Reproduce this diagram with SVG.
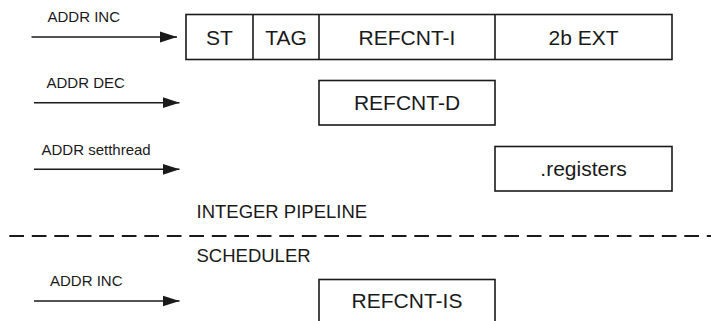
<svg xmlns="http://www.w3.org/2000/svg" width="711" height="321" viewBox="0 0 711 321">
<style>
  .box { fill: #fff; stroke: #1a1a1a; stroke-width: 1.6; }
  .div { stroke: #1a1a1a; stroke-width: 1.6; }
  .lbl { font-family: "Liberation Sans", Arial, sans-serif; font-size: 21px; fill: #1a1a1a; text-anchor: middle; }
  .small { font-family: "Liberation Sans", Arial, sans-serif; font-size: 15px; fill: #1a1a1a; }
  .sec { font-family: "Liberation Sans", Arial, sans-serif; font-size: 18.5px; fill: #1a1a1a; }
  .arrow { stroke: #1a1a1a; stroke-width: 1.6; fill: none; marker-end: url(#ah); }
  .dash { stroke: #1a1a1a; stroke-width: 2; stroke-dasharray: 14.7 7.8; }
</style>
<defs>
  <marker id="ah" markerUnits="userSpaceOnUse" markerWidth="18" markerHeight="12" refX="17" refY="6" orient="auto">
    <path d="M0,0.5 L17,6 L0,11.5 Z" fill="#1a1a1a"/>
  </marker>
</defs>
<rect width="711" height="321" fill="#fff"/>

<g id="node-inc-row">
  <rect class="box" x="186" y="14.5" width="486" height="45"/>
  <line class="div" x1="253" y1="14.5" x2="253" y2="59.5"/>
  <line class="div" x1="319" y1="14.5" x2="319" y2="59.5"/>
  <line class="div" x1="495" y1="14.5" x2="495" y2="59.5"/>
  <text class="lbl" x="219.5" y="44.5">ST</text>
  <text class="lbl" x="286" y="44.5">TAG</text>
  <text class="lbl" x="407" y="44.5">REFCNT-I</text>
  <text class="lbl" x="583.5" y="44.5">2b EXT</text>
</g>

<g id="node-refcnt-d">
  <rect class="box" x="319" y="80.5" width="176" height="44.5"/>
  <text class="lbl" x="407" y="110.3">REFCNT-D</text>
</g>

<g id="node-registers">
  <rect class="box" x="495" y="146.5" width="177" height="44.5"/>
  <text class="lbl" x="583.5" y="176.3">.registers</text>
</g>

<g id="node-refcnt-is">
  <rect class="box" x="319" y="279.5" width="176" height="50"/>
  <text class="lbl" x="407" y="307.5">REFCNT-IS</text>
</g>

<g id="labels">
  <text class="small" x="47.5" y="22.3">ADDR INC</text>
  <text class="small" x="46.5" y="88.3">ADDR DEC</text>
  <text class="small" x="41.5" y="155">ADDR setthread</text>
  <text class="small" x="50" y="286">ADDR INC</text>
  <text class="sec" x="196.5" y="218.3">INTEGER PIPELINE</text>
  <text class="sec" x="196.5" y="261.7">SCHEDULER</text>
</g>

<g id="connectors">
  <line class="arrow" x1="31.5" y1="37" x2="177" y2="37"/>
  <line class="arrow" x1="34" y1="102.7" x2="179.5" y2="102.7"/>
  <line class="arrow" x1="34" y1="169.3" x2="179.5" y2="169.3"/>
  <line class="arrow" x1="34" y1="301" x2="179.5" y2="301"/>
  <line class="dash" x1="9.3" y1="236" x2="711" y2="236"/>
</g>
</svg>
